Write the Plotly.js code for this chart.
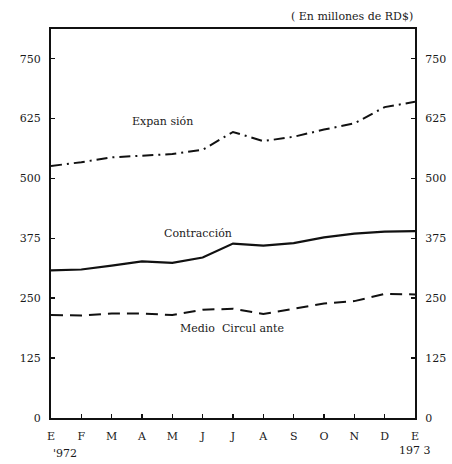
<!DOCTYPE html>
<html>
<head>
<meta charset="utf-8">
<script src="https://cdn.plot.ly/plotly-3.0.1.min.js"></script>
<style>html,body{margin:0;padding:0;background:#fff;}#chart{width:452px;height:464px;}</style>
</head>
<body>
<div id="chart"></div>
<script>
const months = ["E","F","M","A","M","J","J","A","S","O","N","D","E"];
const expansion = [526, 534, 544, 548, 551, 560, 597, 578, 587, 602, 615, 649, 660];
const contraccion = [308, 310, 318, 327, 324, 335, 364, 360, 365, 377, 385, 389, 390];
const medioCirculante = [215, 214, 218, 218, 215, 226, 228, 217, 228, 239, 244, 259, 258];
const yTicks = [0, 125, 250, 375, 500, 625, 750];

const idx = months.map((m, i) => i);
const F = "DejaVu Serif";
const TC = "#1a1a1a";

const traces = [
  {x: idx, y: expansion, mode: "lines", line: {color: "#111", width: 2, dash: "11px,5px,2px,5px"}, hoverinfo: "skip"},
  {x: idx, y: contraccion, mode: "lines", line: {color: "#111", width: 2.2}, hoverinfo: "skip"},
  {x: idx, y: medioCirculante, mode: "lines", line: {color: "#111", width: 2, dash: "12px,7px"}, hoverinfo: "skip"},
  {x: [], y: [], yaxis: "y2", mode: "lines", hoverinfo: "skip"}
];

const axY = {
  range: [0, 812], tickvals: yTicks, ticktext: yTicks.map(String),
  ticks: "inside", ticklen: 4, tickwidth: 1.5, tickcolor: "#111",
  showgrid: false, zeroline: false, showline: true, linecolor: "#111", linewidth: 2,
  tickfont: {family: F, size: 11, color: TC}, ticklabelstandoff: 6, fixedrange: true
};

const layout = {
  width: 452, height: 464,
  margin: {l: 51, r: 37, t: 29, b: 46},
  paper_bgcolor: "#fff", plot_bgcolor: "#fff",
  showlegend: false,
  xaxis: {
    range: [0, 12], tickvals: idx, ticktext: months,
    ticks: "inside", ticklen: 4, tickwidth: 1.5, tickcolor: "#111",
    showgrid: false, zeroline: false, showline: true, mirror: true, linecolor: "#111", linewidth: 2,
    tickfont: {family: F, size: 11, color: TC}, ticklabelstandoff: 7, fixedrange: true
  },
  yaxis: Object.assign({}, axY, {mirror: true}),
  yaxis2: Object.assign({}, axY, {overlaying: "y", side: "right", matches: "y"}),
  annotations: [
    {text: "( En millones de RD$)", xref: "paper", yref: "paper", x: 1, y: 1, xanchor: "right", yanchor: "bottom", yshift: 4, showarrow: false, font: {family: F, size: 11, color: TC}},
    {text: "Expan sión", x: 3.66, y: 618, xref: "x", yref: "y", showarrow: false, font: {family: F, size: 11, color: TC}},
    {text: "Contracción", x: 4.85, y: 386, xref: "x", yref: "y", showarrow: false, font: {family: F, size: 11, color: TC}},
    {text: "Medio  Circul ante", x: 5.97, y: 186, xref: "x", yref: "y", showarrow: false, font: {family: F, size: 11, color: TC}},
    {text: "'972", xref: "paper", yref: "paper", x: 0, y: 0, xanchor: "left", yanchor: "top", yshift: -27, showarrow: false, font: {family: F, size: 11, color: TC}},
    {text: "197 3", xref: "paper", yref: "paper", x: 1, y: 0, xanchor: "center", yanchor: "top", yshift: -24, showarrow: false, font: {family: F, size: 11, color: TC}}
  ]
};

Plotly.newPlot("chart", traces, layout, {staticPlot: true, displayModeBar: false});
</script>
</body>
</html>
